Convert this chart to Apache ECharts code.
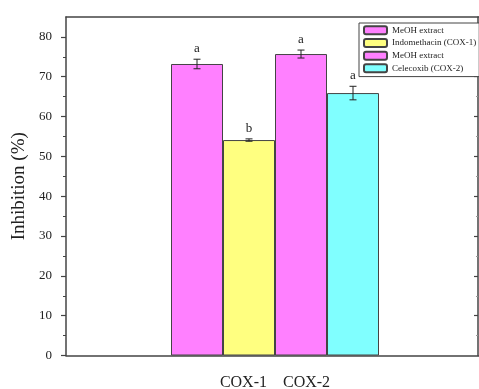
<!DOCTYPE html>
<html><head><meta charset="utf-8">
<script src="https://cdn.jsdelivr.net/npm/echarts@6/dist/echarts.min.js"></script>
<style>html,body{margin:0;padding:0;background:#fff}#c{width:479px;height:389px}</style>
</head><body><div id="c"></div>
<script>
const categories = ['COX-1    COX-2'];
const seriesNames = ['MeOH extract', 'Indomethacin (COX-1)', 'MeOH extract ', 'Celecoxib (COX-2)'];
const values = [73.2, 54.1, 75.7, 65.9];
const errors = [1.2, 0.3, 1.0, 1.7];
const letters = ['a', 'b', 'a', 'a'];
const yMajorTicks = [0, 10, 20, 30, 40, 50, 60, 70, 80];
const yMinorTicks = [5, 15, 25, 35, 45, 55, 65, 75];
const yMin = 0, yMax = 85;

const colors = ['#FF80FF', '#FFFF80', '#FF80FF', '#80FFFF'];
const FONT = '"Liberation Serif", "Times New Roman", serif';
const BAR_W = 52;
const AX = '#444';

const chart = echarts.init(document.getElementById('c'), null, {renderer: 'canvas'});

const barSeries = seriesNames.map((n, i) => ({
  name: n, type: 'bar', xAxisIndex: 0, yAxisIndex: 0,
  data: [values[i]], barWidth: BAR_W, barGap: '0%',
  itemStyle: {color: colors[i], borderColor: '#444', borderWidth: 1},
  emphasis: {disabled: true}, z: 2
}));

const errSeries = {
  type: 'custom', xAxisIndex: 0, yAxisIndex: 0, z: 5,
  data: values.map((v, i) => [0, v, errors[i], i]),
  encode: {x: 0, y: 1},
  renderItem(params, api) {
    const i = api.value(3);
    const v = api.value(1), e = api.value(2);
    const c = api.coord([0, v]);
    const x = c[0] + (i - 1.5) * BAR_W;
    const top = api.coord([0, v + e])[1];
    const bot = api.coord([0, v - e])[1];
    const st = {stroke: '#222', lineWidth: 1};
    return {type: 'group', children: [
      {type: 'line', shape: {x1: x, y1: top, x2: x, y2: bot}, style: st},
      {type: 'line', shape: {x1: x - 3.5, y1: top, x2: x + 3.5, y2: top}, style: st},
      {type: 'line', shape: {x1: x - 3.5, y1: bot, x2: x + 3.5, y2: bot}, style: st},
      {type: 'text', style: {text: letters[i], x: x, y: top - 4, align: 'center', verticalAlign: 'bottom',
        font: '13px ' + FONT, fill: '#222'}}
    ]};
  }
};

const baseY = {type: 'value', min: yMin, max: yMax, splitLine: {show: false}};

chart.setOption({
  animation: false,
  backgroundColor: '#fff',
  grid: {left: 66, top: 17, width: 418, height: 338.5, outerBoundsMode: 'none', containLabel: false},
  legend: {
    data: seriesNames, orient: 'vertical', left: 359, top: 23,
    itemWidth: 23, itemHeight: 8, itemGap: 2.2,
    padding: [2, 3, 3, 4], backgroundColor: '#fff', borderColor: '#444', borderWidth: 1,
    textStyle: {fontFamily: FONT, fontSize: 9, color: '#222', lineHeight: 10.5},
    selectedMode: false
  },
  xAxis: [
    {type: 'category', data: categories, position: 'bottom',
     axisLine: {onZero: false, lineStyle: {color: AX, width: 1.5}},
     axisTick: {alignWithLabel: true, length: 7, lineStyle: {color: AX, width: 1.2}},
     axisLabel: {fontFamily: FONT, fontSize: 16, color: '#222', margin: 19}},
    {type: 'category', data: categories, position: 'top',
     axisLine: {onZero: false, lineStyle: {color: AX, width: 1.5}}, axisTick: {show: false}, axisLabel: {show: false}}
  ],
  yAxis: [
    Object.assign({}, baseY, {position: 'left',
      name: 'Inhibition (%)', nameLocation: 'middle', nameGap: 34,
      nameTextStyle: {fontFamily: FONT, fontSize: 19, color: '#222'},
      axisLine: {show: true, onZero: false, lineStyle: {color: AX, width: 1.5}},
      axisTick: {show: true, length: 5, customValues: yMajorTicks, lineStyle: {color: AX, width: 1.2}},
      axisLabel: {customValues: yMajorTicks, fontFamily: FONT, fontSize: 13, color: '#222', margin: 14}}),
    Object.assign({}, baseY, {position: 'left',
      axisLine: {show: false},
      axisTick: {show: true, length: 3, customValues: yMinorTicks, lineStyle: {color: AX, width: 1}},
      axisLabel: {show: false}}),
    Object.assign({}, baseY, {position: 'right', offset: -6,
      axisLine: {show: true, onZero: false, lineStyle: {color: AX, width: 1.5}},
      axisTick: {show: true, inside: true, length: 4, customValues: yMajorTicks.slice(1), lineStyle: {color: AX, width: 1.2}},
      axisLabel: {show: false}}),
    Object.assign({}, baseY, {position: 'right', offset: -6,
      axisLine: {show: false},
      axisTick: {show: true, inside: true, length: 2, customValues: yMinorTicks, lineStyle: {color: '#999', width: 1}},
      axisLabel: {show: false}})
  ],
  series: [...barSeries, errSeries]
});
</script></body></html>
